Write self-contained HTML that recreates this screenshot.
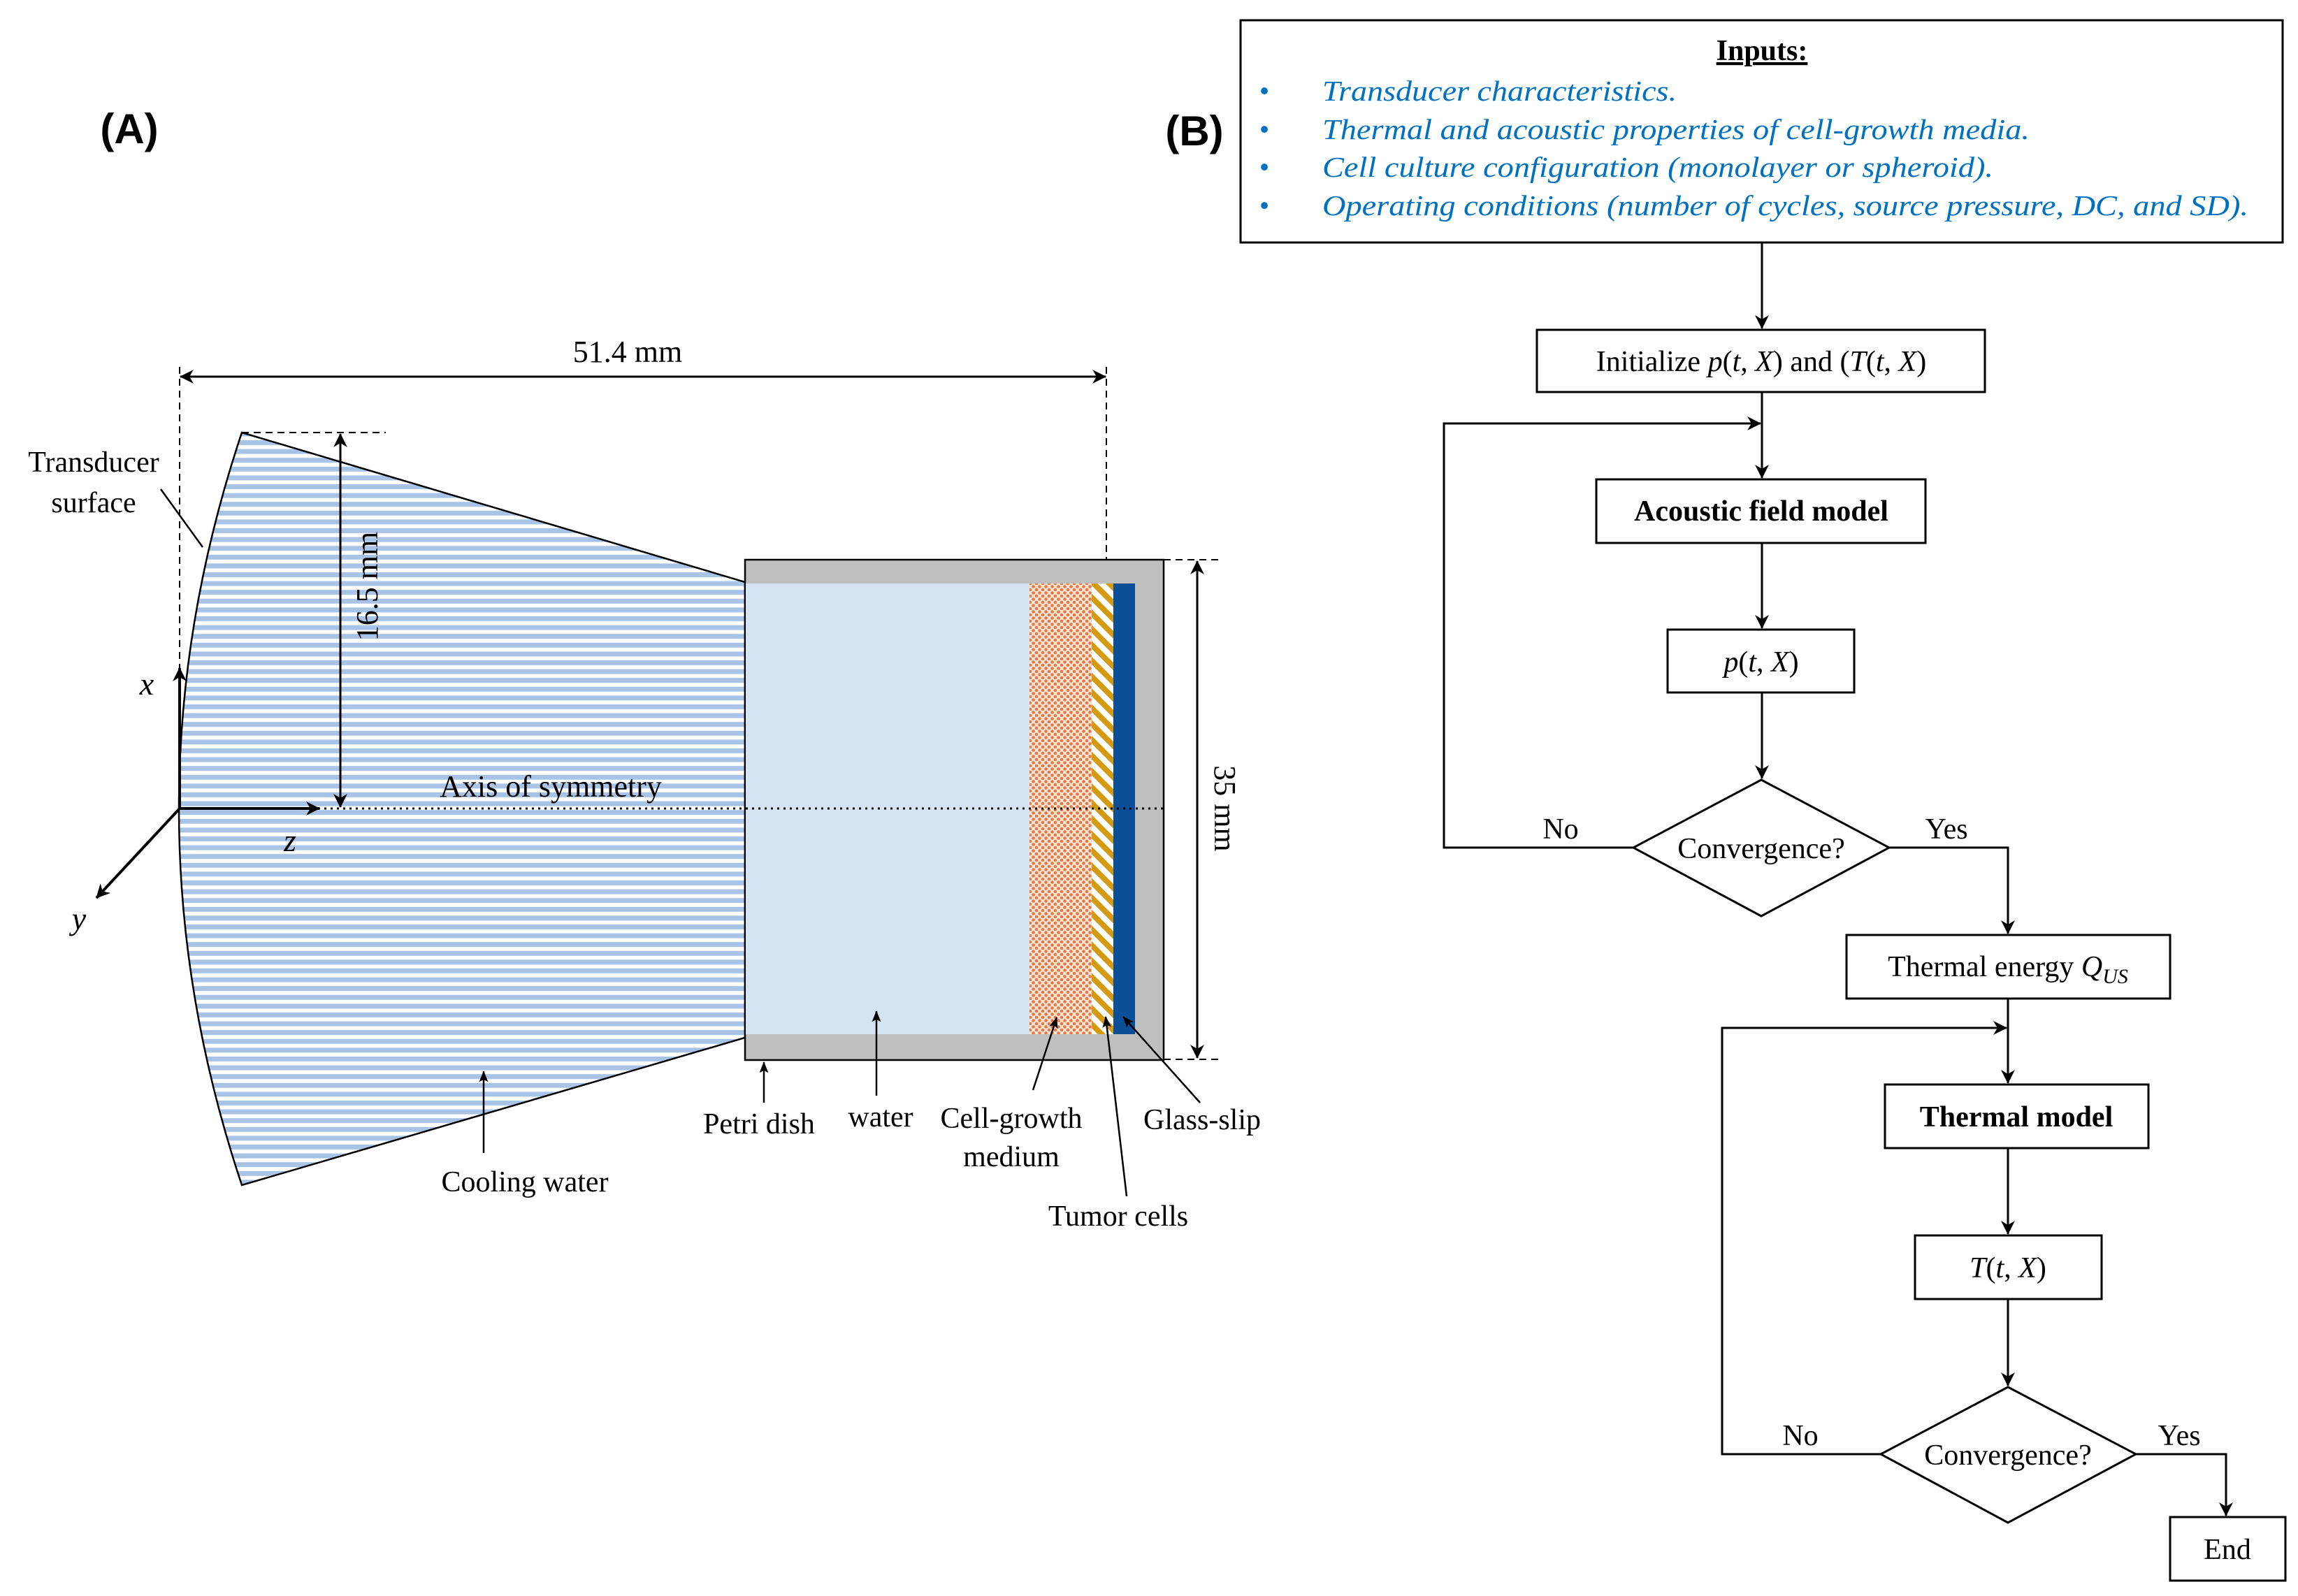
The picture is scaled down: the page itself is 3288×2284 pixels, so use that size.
<!DOCTYPE html>
<html><head><meta charset="utf-8"><style>
html,body{margin:0;padding:0;background:#fff;}
svg{display:block;}
text{font-family:"Liberation Serif",serif;}
</style></head><body>
<svg width="3288" height="2284" viewBox="0 0 3288 2284" xmlns="http://www.w3.org/2000/svg">
<defs>
<pattern id="stripes" width="20" height="12.6" patternUnits="userSpaceOnUse">
<rect width="20" height="12.6" fill="#fff"/><rect width="20" height="7" fill="#a8c3e6"/>
</pattern>
<pattern id="dots" width="9" height="9" patternUnits="userSpaceOnUse">
<rect width="9" height="9" fill="#fbe3d6"/><circle cx="2.5" cy="2.5" r="2.3" fill="#e8773f"/><circle cx="7" cy="7" r="2.3" fill="#e8773f"/>
</pattern>
<pattern id="hatch" width="16" height="16" patternUnits="userSpaceOnUse" patternTransform="rotate(-45)">
<rect width="16" height="16" fill="#fff"/><rect width="8" height="16" fill="#d49a12"/>
</pattern>
<marker id="ah" viewBox="0 0 20 20" refX="19" refY="10" markerWidth="20" markerHeight="20" markerUnits="userSpaceOnUse" orient="auto-start-reverse">
<path d="M0,0 L20,10 L0,20 L6,10 Z" fill="#000"/>
</marker>
<marker id="ahs" viewBox="0 0 20 20" refX="19" refY="10" markerWidth="16" markerHeight="16" markerUnits="userSpaceOnUse" orient="auto-start-reverse">
<path d="M0,2 L20,10 L0,18 L4,10 Z" fill="#000"/>
</marker>
</defs>

<!-- ===== Panel A ===== -->
<text x="185" y="205" font-weight="bold" font-size="60" text-anchor="middle" style="font-family:'Liberation Sans',sans-serif">(A)</text>

<line x1="257" y1="525" x2="257" y2="1150" stroke="#000" stroke-width="2" stroke-dasharray="10,7"/>
<line x1="1583" y1="525" x2="1583" y2="800" stroke="#000" stroke-width="2" stroke-dasharray="10,7"/>
<line x1="258" y1="539" x2="1582" y2="539" stroke="#000" stroke-width="3" marker-start="url(#ah)" marker-end="url(#ah)"/>
<text x="898" y="518" font-size="44" text-anchor="middle">51.4 mm</text>

<path d="M346,619 L1066,833 L1066,1485 L346,1696 Q166,1157 346,619 Z" fill="url(#stripes)" stroke="#000" stroke-width="2.5"/>
<line x1="346" y1="619" x2="552" y2="619" stroke="#000" stroke-width="2" stroke-dasharray="10,7"/>

<rect x="1066" y="801" width="599" height="716" fill="#bfbfbf" stroke="#000" stroke-width="2.5"/>
<rect x="1067" y="835" width="406" height="645" fill="#d6e3f3"/>
<rect x="1473" y="835" width="89" height="645" fill="url(#dots)"/>
<rect x="1562" y="835" width="31" height="645" fill="url(#hatch)"/>
<rect x="1593" y="835" width="31" height="645" fill="#0b4f99"/>

<line x1="257" y1="1157" x2="1665" y2="1157" stroke="#000" stroke-width="3" stroke-dasharray="3,6"/>
<text x="788" y="1140" font-size="44" text-anchor="middle">Axis of symmetry</text>

<line x1="487" y1="621" x2="487" y2="1155" stroke="#000" stroke-width="3" marker-start="url(#ah)" marker-end="url(#ah)"/>
<text transform="translate(540,839) rotate(-90)" font-size="44" text-anchor="middle">16.5 mm</text>

<line x1="1665" y1="801" x2="1745" y2="801" stroke="#000" stroke-width="2" stroke-dasharray="10,7"/>
<line x1="1665" y1="1516" x2="1745" y2="1516" stroke="#000" stroke-width="2" stroke-dasharray="10,7"/>
<line x1="1713" y1="803" x2="1713" y2="1514" stroke="#000" stroke-width="3" marker-start="url(#ah)" marker-end="url(#ah)"/>
<text transform="translate(1738,1157) rotate(90)" font-size="44" text-anchor="middle">35 mm</text>

<line x1="257" y1="1157" x2="257" y2="956" stroke="#000" stroke-width="4" marker-end="url(#ah)"/>
<line x1="257" y1="1157" x2="457" y2="1157" stroke="#000" stroke-width="4" marker-end="url(#ah)"/>
<line x1="257" y1="1157" x2="138" y2="1285" stroke="#000" stroke-width="4" marker-end="url(#ah)"/>
<text x="210" y="994" font-size="46" font-style="italic" text-anchor="middle">x</text>
<text x="415" y="1218" font-size="46" font-style="italic" text-anchor="middle">z</text>
<text x="113" y="1330" font-size="46" font-style="italic" text-anchor="middle">y</text>

<text x="134" y="675" font-size="42" text-anchor="middle">Transducer</text>
<text x="134" y="733" font-size="42" text-anchor="middle">surface</text>
<line x1="230" y1="700" x2="290" y2="783" stroke="#000" stroke-width="2.5"/>

<line x1="692" y1="1650" x2="692" y2="1533" stroke="#000" stroke-width="2.5" marker-end="url(#ahs)"/>
<text x="751" y="1705" font-size="42" text-anchor="middle">Cooling water</text>

<line x1="1093" y1="1578" x2="1093" y2="1520" stroke="#000" stroke-width="2.5" marker-end="url(#ahs)"/>
<text x="1086" y="1622" font-size="42" text-anchor="middle">Petri dish</text>

<line x1="1254" y1="1568" x2="1254" y2="1447" stroke="#000" stroke-width="2.5" marker-end="url(#ahs)"/>
<text x="1260" y="1612" font-size="42" text-anchor="middle">water</text>

<line x1="1478" y1="1560" x2="1512" y2="1456" stroke="#000" stroke-width="2.5" marker-end="url(#ahs)"/>
<text x="1447" y="1614" font-size="42" text-anchor="middle">Cell-growth</text>
<text x="1447" y="1669" font-size="42" text-anchor="middle">medium</text>

<line x1="1612" y1="1712" x2="1582" y2="1455" stroke="#000" stroke-width="2.5" marker-end="url(#ahs)"/>
<text x="1600" y="1754" font-size="42" text-anchor="middle">Tumor cells</text>

<line x1="1717" y1="1578" x2="1607" y2="1455" stroke="#000" stroke-width="2.5" marker-end="url(#ahs)"/>
<text x="1720" y="1616" font-size="42" text-anchor="middle">Glass-slip</text>

<!-- ===== Panel B ===== -->
<text x="1709" y="208" font-weight="bold" font-size="60" text-anchor="middle" style="font-family:'Liberation Sans',sans-serif">(B)</text>

<rect x="1775" y="29" width="1491" height="318" fill="#fff" stroke="#000" stroke-width="3"/>
<text x="2521" y="86" font-size="42" font-weight="bold" text-anchor="middle" text-decoration="underline">Inputs:</text>
<g fill="#0070c0" font-size="41" font-style="italic">
<text x="1809" y="144" font-style="normal" text-anchor="middle">•</text>
<text x="1809" y="199" font-style="normal" text-anchor="middle">•</text>
<text x="1809" y="253" font-style="normal" text-anchor="middle">•</text>
<text x="1809" y="308" font-style="normal" text-anchor="middle">•</text>
<text x="1892" y="144" textLength="507" lengthAdjust="spacingAndGlyphs">Transducer characteristics.</text>
<text x="1892" y="199" textLength="1012" lengthAdjust="spacingAndGlyphs">Thermal and acoustic properties of cell-growth media.</text>
<text x="1892" y="253" textLength="960" lengthAdjust="spacingAndGlyphs">Cell culture configuration (monolayer or spheroid).</text>
<text x="1892" y="308" textLength="1325" lengthAdjust="spacingAndGlyphs">Operating conditions (number of cycles, source pressure, DC, and SD).</text>
</g>

<g stroke="#000" stroke-width="3" fill="none">
<line x1="2521" y1="347" x2="2521" y2="470" marker-end="url(#ah)"/>
<line x1="2521" y1="561" x2="2521" y2="684" marker-end="url(#ah)"/>
<polyline points="2337,1213 2066,1213 2066,606 2519,606" marker-end="url(#ah)"/>
<line x1="2521" y1="777" x2="2521" y2="899" marker-end="url(#ah)"/>
<line x1="2521" y1="991" x2="2521" y2="1114" marker-end="url(#ah)"/>
<polyline points="2703,1213 2873,1213 2873,1336" marker-end="url(#ah)"/>
<line x1="2873" y1="1429" x2="2873" y2="1550" marker-end="url(#ah)"/>
<polyline points="2691,2081 2464,2081 2464,1471 2871,1471" marker-end="url(#ah)"/>
<line x1="2873" y1="1643" x2="2873" y2="1766" marker-end="url(#ah)"/>
<line x1="2873" y1="1859" x2="2873" y2="1983" marker-end="url(#ah)"/>
<polyline points="3056,2081 3185,2081 3185,2169" marker-end="url(#ah)"/>
</g>
<g stroke="#000" stroke-width="3" fill="#fff">
<rect x="2199" y="472" width="641" height="89"/>
<rect x="2284" y="686" width="471" height="91"/>
<rect x="2386" y="901" width="267" height="90"/>
<polygon points="2520,1116 2703,1213 2520,1311 2337,1213"/>
<rect x="2642" y="1338" width="463" height="91"/>
<rect x="2697" y="1552" width="377" height="91"/>
<rect x="2740" y="1768" width="267" height="91"/>
<polygon points="2873,1985 3056,2081 2873,2179 2691,2081"/>
<rect x="3105" y="2171" width="165" height="91"/>
</g>
<g font-size="42" text-anchor="middle">
<text x="2520" y="531">Initialize <tspan font-style="italic">p</tspan>(<tspan font-style="italic">t</tspan>, <tspan font-style="italic">X</tspan>) and (<tspan font-style="italic">T</tspan>(<tspan font-style="italic">t</tspan>, <tspan font-style="italic">X</tspan>)</text>
<text x="2520" y="745" font-weight="bold">Acoustic field model</text>
<text x="2520" y="961"><tspan font-style="italic">p</tspan>(<tspan font-style="italic">t</tspan>, <tspan font-style="italic">X</tspan>)</text>
<text x="2520" y="1228">Convergence?</text>
<text x="2233" y="1200">No</text>
<text x="2785" y="1200">Yes</text>
<text x="2873" y="1397">Thermal energy <tspan font-style="italic">Q</tspan><tspan font-style="italic" font-size="30" dy="10">US</tspan></text>
<text x="2885" y="1612" font-weight="bold">Thermal model</text>
<text x="2873" y="1828"><tspan font-style="italic">T</tspan>(<tspan font-style="italic">t</tspan>, <tspan font-style="italic">X</tspan>)</text>
<text x="2873" y="2096">Convergence?</text>
<text x="2576" y="2068">No</text>
<text x="3118" y="2068">Yes</text>
<text x="3187" y="2231">End</text>
</g>
</svg>
</body></html>
